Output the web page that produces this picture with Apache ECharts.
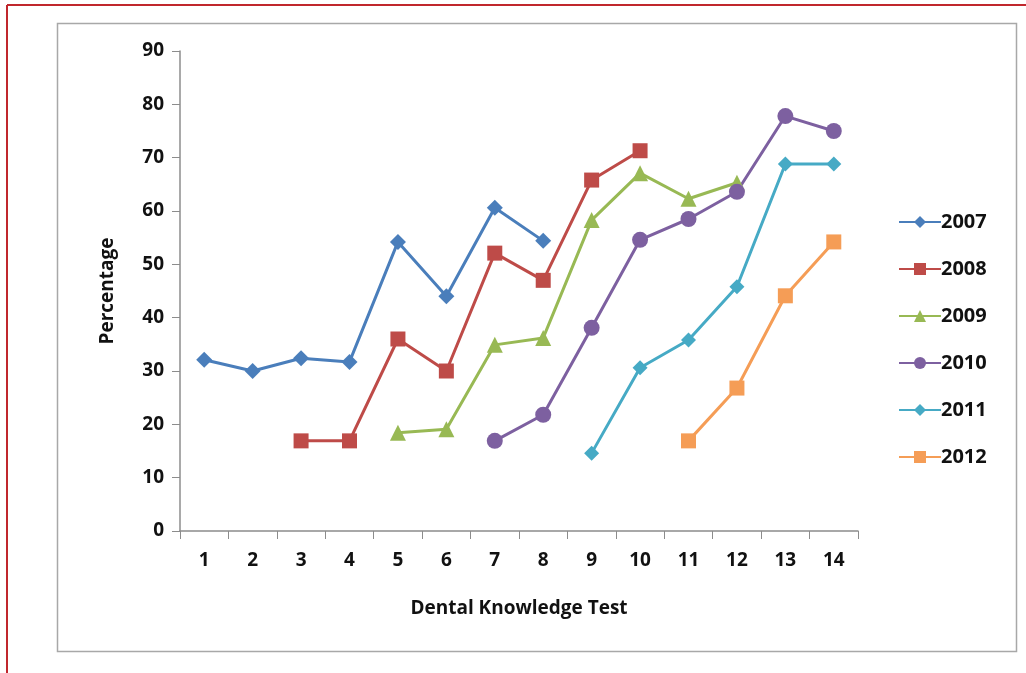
<!DOCTYPE html>
<html><head><meta charset="utf-8">
<script src="https://cdn.jsdelivr.net/npm/echarts@6/dist/echarts.min.js"></script>
<style>html,body{margin:0;padding:0;background:#fff}#c{width:1026px;height:673px}</style>
</head><body><div id="c"></div>
<script>
const categories = ['1','2','3','4','5','6','7','8','9','10','11','12','13','14'];
const seriesNames = ['2007','2008','2009','2010','2011','2012'];
const s2007 = [32.1,30,32.4,31.7,54.2,44,60.6,54.4,null,null,null,null,null,null];
const s2008 = [null,null,16.9,16.9,36,30,52.1,47,65.8,71.3,null,null,null,null];
const s2009 = [null,null,null,null,18.4,19.1,34.9,36.2,58.3,67.1,62.3,65.3,null,null];
const s2010 = [null,null,null,null,null,null,16.9,21.8,38.1,54.6,58.5,63.6,77.8,75];
const s2011 = [null,null,null,null,null,null,null,null,14.6,30.6,35.8,45.8,68.8,68.8];
const s2012 = [null,null,null,null,null,null,null,null,null,null,16.9,26.8,44.1,54.2];
const seriesData = [s2007,s2008,s2009,s2010,s2011,s2012];
const colors = ['#4A7EBB','#BE4B48','#98B954','#7D60A0','#46AAC5','#F59D56'];
const symbols = ['diamond','rect','triangle','circle','diamond','rect'];
const symbolSizes = [16,15,16,16,15,15];

const chart = echarts.init(document.getElementById('c'), null, {renderer:'canvas'});
const font = 'Open Sans';
chart.setOption({
  animation:false,
  backgroundColor:'#fff',
  color: colors,
  graphic:[
    {type:'line', shape:{x1:7,y1:5,x2:1026,y2:5}, style:{stroke:'#C0272D', lineWidth:2}, silent:true, z:-10},
    {type:'line', shape:{x1:7,y1:5,x2:7,y2:673}, style:{stroke:'#C0272D', lineWidth:2}, silent:true, z:-10},
    {type:'rect', shape:{x:57.5,y:23.5,width:959,height:628}, style:{fill:null, stroke:'#A8A8A8', lineWidth:1.5}, silent:true, z:-10}
  ],
  grid:{left:180, right:168, top:51, bottom:142},
  legend:{
    orient:'vertical', left:893, top:207, itemGap:27,
    itemWidth:42, itemHeight:15,
    data: seriesNames,
    textStyle:{fontFamily:font, fontWeight:'bold', fontSize:20, color:'#111', padding:[0,0,0,-5]}
  },
  xAxis:{
    type:'category', data:categories, boundaryGap:true,
    name:'Dental Knowledge Test', nameLocation:'middle', nameGap:68,
    nameTextStyle:{fontFamily:font, fontWeight:'bold', fontSize:19, color:'#111'},
    axisLine:{lineStyle:{color:'#8C8C8C', width:1.5}},
    axisTick:{show:true, alignWithLabel:false, length:8, lineStyle:{color:'#8C8C8C'}},
    axisLabel:{fontFamily:font, fontWeight:'bold', fontSize:19, color:'#111', margin:20},
    splitLine:{show:false}
  },
  yAxis:{
    type:'value', min:0, max:90, interval:10,
    name:'Percentage', nameLocation:'middle', nameGap:63, nameRotate:90,
    nameTextStyle:{fontFamily:font, fontWeight:'bold', fontSize:19, color:'#111'},
    axisLine:{show:true, lineStyle:{color:'#8C8C8C', width:1.5}},
    axisTick:{show:true, length:8, lineStyle:{color:'#8C8C8C'}},
    axisLabel:{fontFamily:font, fontWeight:'bold', fontSize:19, color:'#111', margin:16},
    splitLine:{show:false}
  },
  series: seriesNames.map((n,i)=>({
    name:n, type:'line', data:seriesData[i],
    symbol:symbols[i], symbolSize:symbolSizes[i], showSymbol:true,
    lineStyle:{width:3, color:colors[i]},
    itemStyle:{color:colors[i]},
    connectNulls:false
  }))
});
</script></body></html>
